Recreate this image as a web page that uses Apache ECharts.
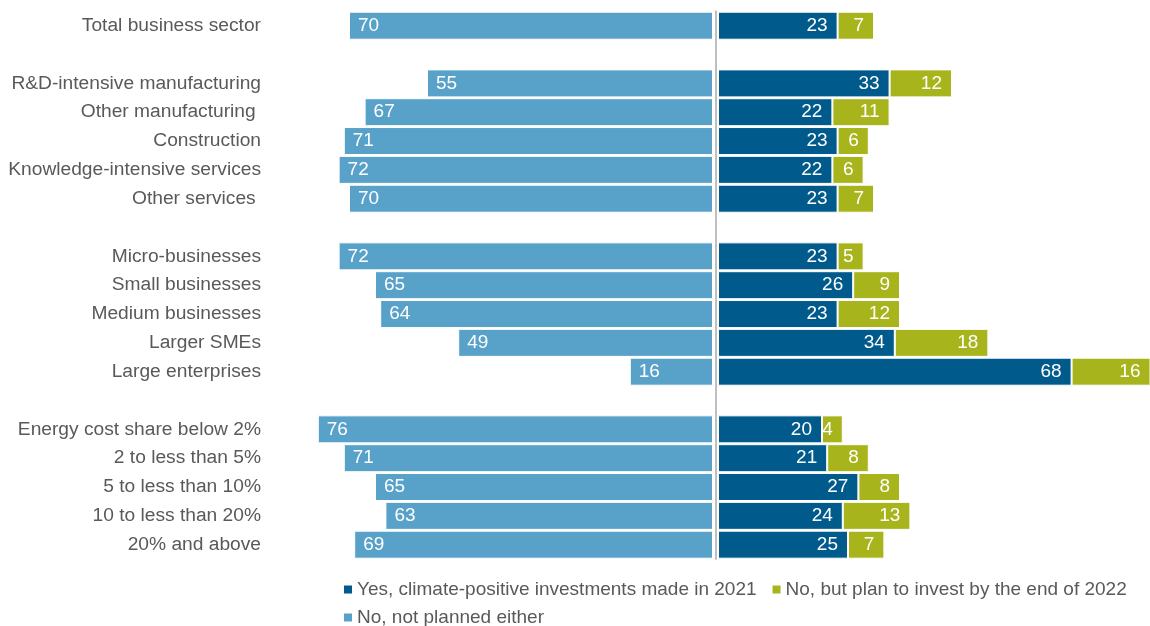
<!DOCTYPE html>
<html>
<head>
<meta charset="utf-8">
<script src="https://cdn.jsdelivr.net/npm/echarts@6/dist/echarts.min.js"></script>
<style>
  html, body { margin: 0; padding: 0; background: #ffffff; }
  #chart { width: 1150px; height: 626px; }
</style>
</head>
<body>
<div id="chart"></div>
<script>
// Row labels; blank entries are spacer rows between groups
const categories = [
  'Total business sector',
  ' ',
  'R&D-intensive manufacturing',
  'Other manufacturing ',
  'Construction',
  'Knowledge-intensive services',
  'Other services ',
  '  ',
  'Micro-businesses',
  'Small businesses',
  'Medium businesses',
  'Larger SMEs',
  'Large enterprises',
  '   ',
  'Energy cost share below 2%',
  '2 to less than 5%',
  '5 to less than 10%',
  '10 to less than 20%',
  '20% and above'
];

// Shares in percent
const investedIn2021 = [23, '-', 33, 22, 23, 22, 23, '-', 23, 26, 23, 34, 68, '-', 20, 21, 27, 24, 25];
const plannedBy2022  = [7, '-', 12, 11, 6, 6, 7, '-', 5, 9, 12, 18, 16, '-', 4, 8, 8, 13, 7];
const notPlanned     = [70, '-', 55, 67, 71, 72, 70, '-', 72, 65, 64, 49, 16, '-', 76, 71, 65, 63, 69];

const seriesNames = [
  'Yes, climate-positive investments made in 2021',
  'No, but plan to invest by the end of 2022',
  'No, not planned either'
];

const COLORS = { yes: '#005A8C', plan: '#A7B41C', none: '#58A1C9' };
const FONT = '"Liberation Sans", Arial, sans-serif';
const GRAY = '#595959';

const chart = echarts.init(document.getElementById('chart'), null, { renderer: 'canvas' });

const valueLabel = (pos, dist) => ({
  show: true,
  position: pos,
  distance: dist,
  color: '#ffffff',
  fontFamily: FONT,
  fontSize: 19
});

const barStyle = (c) => ({ color: c, borderColor: '#ffffff', borderWidth: 1 });

const legendText = { color: GRAY, fontFamily: FONT, fontSize: 19 };
const legendIcon = { borderWidth: 0 };

chart.setOption({
  animation: false,
  backgroundColor: '#ffffff',
  grid: [
    // left half: "not planned" bars grow leftwards from the centre line
    { left: 297, width: 416, top: 11.3, height: 547.8, containLabel: false },
    // right half: stacked bars; the longest one is cut off at the edge
    { left: 718, right: 0, top: 11.3, height: 547.8, containLabel: false }
  ],
  xAxis: [
    { gridIndex: 0, type: 'value', inverse: true, min: 0, max: 80, show: false },
    { gridIndex: 1, type: 'value', min: 0, max: 83.08, show: false }
  ],
  yAxis: [
    {
      gridIndex: 0, type: 'category', data: categories, inverse: true,
      position: 'left',
      axisLine: { show: false, onZero: false },
      axisTick: { show: false },
      axisLabel: { margin: 36, color: GRAY, fontFamily: FONT, fontSize: 19.2 }
    },
    {
      gridIndex: 1, type: 'category', data: categories, inverse: true,
      position: 'left', offset: 2.3,
      axisLine: { show: true, onZero: false, lineStyle: { color: '#BFBFBF', width: 2 } },
      axisTick: { show: false },
      axisLabel: { show: false }
    }
  ],
  legend: [
    {
      data: [seriesNames[0], seriesNames[1]],
      left: 344, top: 580, padding: 0,
      itemWidth: 8, itemHeight: 8, itemGap: 16,
      icon: 'rect',
      itemStyle: legendIcon,
      textStyle: legendText
    },
    {
      data: [seriesNames[2]],
      left: 344, top: 608, padding: 0,
      itemWidth: 8, itemHeight: 8,
      icon: 'rect',
      itemStyle: legendIcon,
      textStyle: legendText
    }
  ],
  series: [
    {
      name: seriesNames[2], type: 'bar', xAxisIndex: 0, yAxisIndex: 0,
      data: notPlanned, barWidth: 28,
      itemStyle: barStyle(COLORS.none),
      label: valueLabel('insideLeft', 9)
    },
    {
      name: seriesNames[0], type: 'bar', xAxisIndex: 1, yAxisIndex: 1, stack: 'right',
      data: investedIn2021, barWidth: 28,
      itemStyle: barStyle(COLORS.yes),
      label: valueLabel('insideRight', 10)
    },
    {
      name: seriesNames[1], type: 'bar', xAxisIndex: 1, yAxisIndex: 1, stack: 'right',
      data: plannedBy2022, barWidth: 28,
      itemStyle: barStyle(COLORS.plan),
      label: valueLabel('insideRight', 10)
    }
  ]
});
</script>
</body>
</html>
